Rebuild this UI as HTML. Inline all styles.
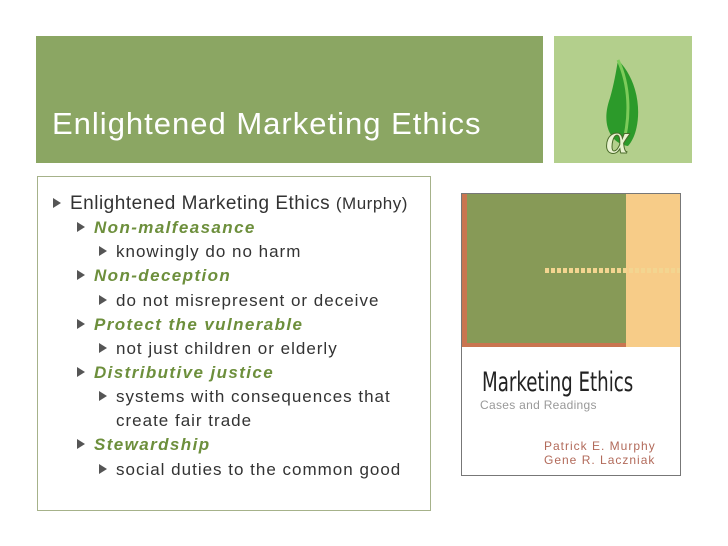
<!DOCTYPE html>
<html><head><meta charset="utf-8"><style>
body{margin:0;width:728px;height:546px;background:#fff;position:relative;overflow:hidden;font-family:"Liberation Sans",sans-serif}
.a{position:absolute}
.l{position:absolute;white-space:nowrap;color:#333}
.tri{display:inline-block;width:0;height:0;border-left:8px solid #555;border-top:5px solid transparent;border-bottom:5px solid transparent;margin-right:9px;vertical-align:1px}
.g{color:#6d8f3c;font-weight:bold;font-style:italic;letter-spacing:1.4px}
.s{font-size:17px;letter-spacing:1px}
</style></head><body>
<div class="a" style="left:36px;top:36px;width:507px;height:127px;background:#8ba663"></div>
<div class="l" style="left:52px;top:106px;font-size:31px;letter-spacing:1px;color:#fff">Enlightened Marketing Ethics</div>
<div class="a" style="left:554px;top:36px;width:138px;height:127px;background:#b3cf8c">
<svg width="138" height="127"><path d="M64 24 C90 50 88 95 74 110 C58 108 46 90 56 62 C60 48 62 36 64 24Z" fill="#2c9a2a"/><path d="M64 24 C76 50 76 80 70 104" stroke="#7dcb5a" stroke-width="3" fill="none"/><text x="52" y="117" font-family="Liberation Serif,serif" font-style="italic" font-weight="bold" font-size="42" fill="#e8f2d0" stroke="#4a6a2a" stroke-width="1">α</text></svg></div>
<div class="a" style="left:37px;top:176px;width:392px;height:333px;border:1px solid #a6b28a"></div>
<div class="l" style="left:53px;top:193px;font-size:19px;letter-spacing:0.5px"><span class="tri"></span>Enlightened Marketing Ethics <span style="font-size:17px">(Murphy)</span></div>
<div class="l s" style="left:77px;top:218px"><span class="tri"></span><span class="g">Non-malfeasance</span></div>
<div class="l s" style="left:99px;top:242px"><span class="tri"></span>knowingly do no harm</div>
<div class="l s" style="left:77px;top:266px"><span class="tri"></span><span class="g">Non-deception</span></div>
<div class="l s" style="left:99px;top:291px"><span class="tri"></span>do not misrepresent or deceive</div>
<div class="l s" style="left:77px;top:315px"><span class="tri"></span><span class="g">Protect the vulnerable</span></div>
<div class="l s" style="left:99px;top:339px"><span class="tri"></span>not just children or elderly</div>
<div class="l s" style="left:77px;top:363px"><span class="tri"></span><span class="g">Distributive justice</span></div>
<div class="l s" style="left:99px;top:385px;line-height:24px"><span class="tri"></span>systems with consequences that<br><span style="margin-left:17px">create fair trade</span></div>
<div class="l s" style="left:77px;top:435px"><span class="tri"></span><span class="g">Stewardship</span></div>
<div class="l s" style="left:99px;top:460px"><span class="tri"></span>social duties to the common good</div>
<div class="a" style="left:461px;top:193px;width:218px;height:281px;border:1px solid #777;background:#fff;overflow:hidden">
<div class="a" style="left:0;top:0;width:164px;height:153px;background:#879a57;border-left:5px solid #c97550;border-bottom:4px solid #c97550;box-sizing:border-box"></div>
<div class="a" style="left:164px;top:0;width:54px;height:153px;background:#f7cc88"></div>
<div class="a" style="left:83px;top:74px;width:135px;height:5px;background:repeating-linear-gradient(90deg,#f3d590 0 4px,transparent 4px 6px)"></div>
<div class="l" style="left:20px;top:173px;font-size:27px;color:#222;transform:scaleX(0.75);transform-origin:left;font-family:'DejaVu Sans Condensed','Liberation Sans Narrow',sans-serif">Marketing Ethics</div>
<div class="l" style="left:18px;top:204px;font-size:12px;letter-spacing:0.3px;color:#999">Cases and Readings</div>
<div class="l" style="left:82px;top:245px;font-size:12px;letter-spacing:1px;color:#b26a5a;line-height:14px">Patrick E. Murphy<br>Gene R. Laczniak</div>
</div>
</body></html>
